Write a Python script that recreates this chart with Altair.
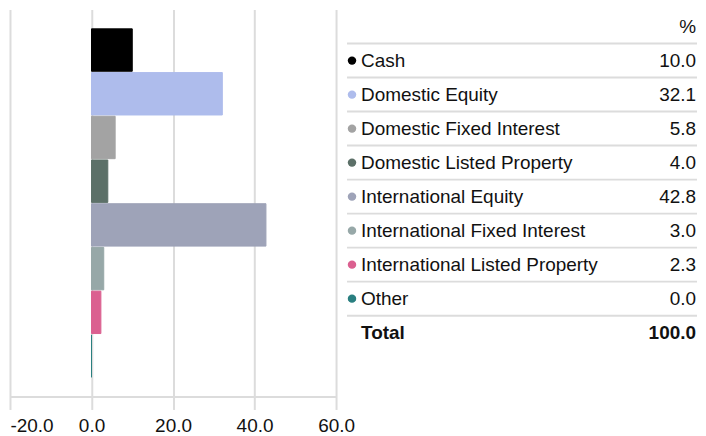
import altair as alt
import pandas as pd

categories = [
    "Cash",
    "Domestic Equity",
    "Domestic Fixed Interest",
    "Domestic Listed Property",
    "International Equity",
    "International Fixed Interest",
    "International Listed Property",
    "Other",
]
values = [10.0, 32.1, 5.8, 4.0, 42.8, 3.0, 2.3, 0.0]
colors = ["#000000", "#aebcec", "#a3a3a3", "#5c7068", "#9ea3b8", "#97a8a8", "#db6090", "#2a7f80"]
x_ticks = [-20, 0, 20, 40, 60]
header_text = "%"
total_label = "Total"

FONT = "Liberation Sans"
TEXT_COLOR = "#111111"
LINE_COLOR = "#dcdcdc"

df = pd.DataFrame({"category": categories, "value": values})

color_scale = alt.Scale(domain=categories, range=colors)

bars = (
    alt.Chart(df)
    .mark_bar(strokeWidth=1)
    .encode(
        x=alt.X(
            "value:Q",
            scale=alt.Scale(domain=[-20, 60], nice=False, zero=False),
            axis=alt.Axis(
                values=x_ticks,
                labelExpr="replace(format(datum.value, '.1f'), '\u2212', '-')",
                title=None,
                grid=True,
                gridColor=LINE_COLOR,
                gridWidth=2,
                domainColor=LINE_COLOR,
                domainWidth=2,
                tickColor=LINE_COLOR,
                tickWidth=2,
                tickSize=13,
                labelFontSize=19,
                labelFont=FONT,
                labelColor=TEXT_COLOR,
                labelPadding=7,
                labelFlush=False,
                labelAlign=alt.ExprRef(expr="datum.value == -20 ? 'left' : 'center'"),
            ),
        ),
        y=alt.Y(
            "category:N",
            sort=categories,
            scale=alt.Scale(domain=categories, paddingInner=0.03, paddingOuter=0.44),
            axis=None,
        ),
        color=alt.Color("category:N", scale=color_scale, legend=None),
        stroke=alt.Stroke("category:N", scale=color_scale, legend=None),
    )
    .properties(width=327, height=388)
)

rows = ["__header"] + categories + ["__total"]
total_value = round(sum(values), 1)
tdf = pd.DataFrame(
    {
        "row": rows,
        "label": [""] + categories + [total_label],
        "val": [header_text] + [f"{v:.1f}" for v in values] + [f"{total_value:.1f}"],
        "kind": ["header"] + ["item"] * len(categories) + ["total"],
    }
)

TABLE_W = 351
row_y = alt.Y(
    "row:N",
    scale=alt.Scale(domain=rows, paddingInner=0, paddingOuter=0),
    axis=None,
)
row_y_bottom = alt.Y(
    "row:N",
    bandPosition=1,
    scale=alt.Scale(domain=rows, paddingInner=0, paddingOuter=0),
    axis=None,
)

base = alt.Chart(tdf)

rules = (
    base.transform_filter("datum.kind != 'total'")
    .mark_rule(strokeWidth=2, color=LINE_COLOR)
    .encode(y=row_y_bottom, x=alt.value(0), x2=alt.value(TABLE_W))
)

dots = (
    base.transform_filter("datum.kind == 'item'")
    .mark_circle(size=72, opacity=1)
    .encode(
        y=row_y,
        x=alt.value(5),
        color=alt.Color("row:N", scale=alt.Scale(domain=categories, range=colors), legend=None),
    )
)

labels_normal = (
    base.transform_filter("datum.kind == 'item'")
    .mark_text(align="left", baseline="middle", font=FONT, fontSize=19, color=TEXT_COLOR)
    .encode(y=row_y, x=alt.value(14), text="label:N")
)

values_normal = (
    base.transform_filter("datum.kind != 'total'")
    .mark_text(align="right", baseline="middle", font=FONT, fontSize=19, color=TEXT_COLOR)
    .encode(y=row_y, x=alt.value(TABLE_W - 1), text="val:N")
)

total_texts = (
    base.transform_filter("datum.kind == 'total'")
    .mark_text(align="left", baseline="middle", font=FONT, fontSize=19, fontWeight="bold", color=TEXT_COLOR)
    .encode(y=row_y, x=alt.value(14), text="label:N")
)
total_vals = (
    base.transform_filter("datum.kind == 'total'")
    .mark_text(align="right", baseline="middle", font=FONT, fontSize=19, fontWeight="bold", color=TEXT_COLOR)
    .encode(y=row_y, x=alt.value(TABLE_W - 1), text="val:N")
)

table = alt.layer(rules, dots, labels_normal, values_normal, total_texts, total_vals).properties(
    width=TABLE_W, height=341
)

chart = (
    alt.hconcat(bars, table, spacing=11, bounds="flush")
    .resolve_scale(color="independent", y="independent")
    .properties(padding={"left": 1, "top": 1, "right": 0, "bottom": 0})
    .configure_view(stroke=None)
)

chart.save("out.html", embed_options={"renderer": "svg", "actions": False})
